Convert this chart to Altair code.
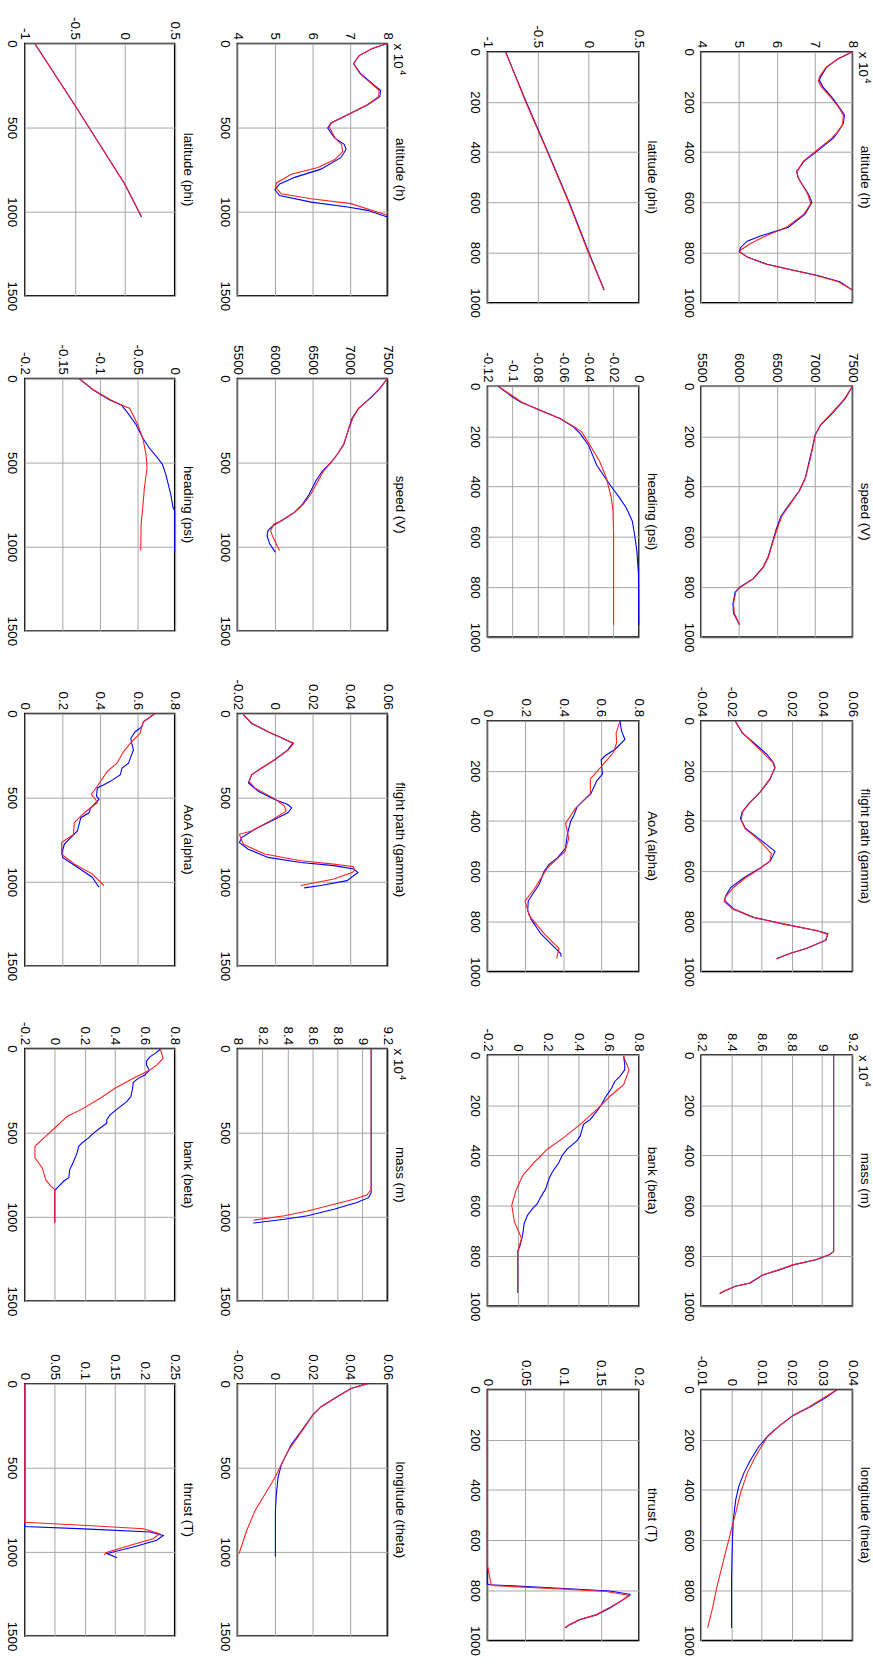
import altair as alt
import pandas as pd

# ---------------- data (time t, value v) ----------------
# Right half (t: 0..1000)
ALT_R_TB = [0, 30, 62, 100, 114, 140, 180, 220, 253, 285, 320, 345, 397, 437, 476, 500, 516, 568, 601, 647, 700, 735, 755, 780, 796, 818, 847, 871, 891, 917, 950]
ALT_R_VB = [8.0, 7.6, 7.32, 7.16, 7.13, 7.22, 7.45, 7.65, 7.79, 7.76, 7.62, 7.49, 7.06, 6.72, 6.53, 6.56, 6.62, 6.84, 6.93, 6.75, 6.30, 5.55, 5.22, 5.05, 5.01, 5.22, 5.75, 6.45, 7.06, 7.67, 8.0]
ALT_R_TR = [0, 30, 62, 100, 118, 140, 180, 220, 253, 290, 320, 345, 397, 437, 480, 500, 520, 568, 605, 647, 700, 740, 765, 790, 798, 820, 847, 871, 891, 917, 950]
ALT_R_VR = [8.0, 7.6, 7.3, 7.13, 7.1, 7.18, 7.42, 7.63, 7.76, 7.74, 7.6, 7.45, 7.02, 6.7, 6.53, 6.57, 6.64, 6.82, 6.9, 6.72, 6.25, 5.62, 5.3, 5.05, 5.02, 5.25, 5.72, 6.42, 7.02, 7.63, 8.0]

LAT_R_TB = [0, 200, 400, 600, 800, 950]
LAT_R_VB = [-0.82, -0.615, -0.40, -0.19, 0.005, 0.158]
LAT_R_TR = [0, 200, 400, 600, 800, 950]
LAT_R_VR = [-0.82, -0.62, -0.405, -0.195, 0.0, 0.155]

SPD_R_TB = [0, 50, 109, 155, 195, 247, 300, 366, 418, 471, 517, 570, 616, 682, 721, 767, 800, 820, 866, 905, 951]
SPD_R_VB = [7500, 7405, 7232, 7080, 7006, 6970, 6929, 6877, 6797, 6667, 6558, 6494, 6450, 6385, 6320, 6190, 6017, 5952, 5922, 5930, 6009]
SPD_R_TR = SPD_R_TB
SPD_R_VR = [7500, 7395, 7220, 7075, 7010, 6975, 6935, 6880, 6800, 6675, 6570, 6505, 6455, 6390, 6325, 6195, 6025, 5960, 5930, 5940, 6012]

HDG_R_TB = [0, 37, 63, 96, 129, 162, 188, 234, 313, 353, 392, 445, 484, 537, 589, 655, 747, 951]
HDG_R_VB = [-0.1114, -0.1017, -0.0938, -0.078, -0.0624, -0.0519, -0.0466, -0.040, -0.0335, -0.0283, -0.023, -0.0152, -0.010, -0.0052, -0.0034, -0.0016, -0.0003, 0.0]
HDG_R_TR = [0, 37, 63, 96, 129, 162, 182, 234, 300, 366, 445, 497, 589, 951]
HDG_R_VR = [-0.1114, -0.1005, -0.093, -0.0785, -0.0625, -0.051, -0.0453, -0.0388, -0.031, -0.0257, -0.0218, -0.0204, -0.020, -0.020]

FPA_R_TB = [3, 49, 88, 134, 167, 186, 232, 285, 331, 364, 390, 429, 469, 495, 521, 560, 587, 626, 665, 700, 717, 751, 784, 810, 836, 849, 875, 908, 928, 948]
FPA_R_VB = [-0.0172, -0.0128, -0.0052, 0.0035, 0.0078, 0.0089, 0.0057, -0.0009, -0.0085, -0.0128, -0.0139, -0.0107, -0.002, 0.0035, 0.0089, 0.0057, -0.0009, -0.0117, -0.0204, -0.0238, -0.0243, -0.0183, -0.0052, 0.0143, 0.0361, 0.0437, 0.0426, 0.0296, 0.0187, 0.010]
FPA_R_TR = [3, 49, 88, 134, 167, 190, 232, 285, 331, 364, 395, 429, 469, 500, 530, 560, 587, 626, 665, 700, 720, 751, 784, 810, 836, 852, 875, 908, 928, 950]
FPA_R_VR = [-0.0172, -0.0125, -0.006, 0.002, 0.0075, 0.0088, 0.0055, -0.001, -0.0083, -0.0125, -0.0136, -0.011, -0.003, 0.002, 0.0065, 0.0055, -0.0005, -0.0105, -0.0185, -0.0235, -0.0248, -0.019, -0.0055, 0.014, 0.036, 0.0438, 0.0422, 0.0292, 0.0185, 0.0098]

AOA_R_TB = [0, 42, 75, 114, 140, 156, 193, 213, 239, 272, 291, 318, 344, 377, 403, 455, 508, 547, 573, 600, 652, 692, 718, 757, 790, 849, 902, 928, 941]
AOA_R_VB = [0.70, 0.709, 0.727, 0.675, 0.622, 0.601, 0.605, 0.608, 0.579, 0.558, 0.547, 0.509, 0.474, 0.457, 0.439, 0.422, 0.413, 0.37, 0.326, 0.30, 0.274, 0.239, 0.216, 0.213, 0.23, 0.282, 0.352, 0.387, 0.39]
AOA_R_TR = [3, 49, 88, 127, 180, 232, 291, 350, 409, 469, 521, 587, 672, 718, 777, 849, 908, 948]
AOA_R_VR = [0.70, 0.68, 0.683, 0.666, 0.605, 0.544, 0.544, 0.465, 0.413, 0.43, 0.41, 0.317, 0.247, 0.199, 0.221, 0.30, 0.378, 0.366]

MAS_R_TB = [0, 783, 796, 816, 836, 855, 875, 908, 921, 941, 950]
MAS_R_VB = [9.076, 9.076, 9.048, 8.96, 8.809, 8.722, 8.613, 8.526, 8.428, 8.352, 8.326]
MAS_R_TR = MAS_R_TB
MAS_R_VR = [9.076, 9.076, 9.045, 8.955, 8.805, 8.718, 8.61, 8.52, 8.425, 8.35, 8.322]

BNK_R_TB = [4, 39, 59, 86, 105, 132, 171, 197, 224, 257, 276, 322, 342, 375, 401, 428, 467, 493, 533, 566, 592, 612, 638, 671, 717, 757, 783, 947]
BNK_R_VB = [0.70, 0.707, 0.707, 0.674, 0.641, 0.62, 0.576, 0.554, 0.522, 0.478, 0.435, 0.413, 0.391, 0.326, 0.293, 0.272, 0.228, 0.207, 0.185, 0.152, 0.13, 0.098, 0.065, 0.043, 0.033, 0.017, 0.0, 0.0]
BNK_R_TR = [4, 59, 118, 164, 217, 276, 329, 375, 428, 480, 539, 599, 664, 730, 783, 947]
BNK_R_VR = [0.70, 0.735, 0.70, 0.609, 0.522, 0.413, 0.304, 0.196, 0.109, 0.033, -0.011, -0.039, -0.022, 0.026, 0.0, 0.0]

LON_R_TB = [0, 30, 70, 102, 142, 181, 227, 280, 332, 385, 438, 516, 595, 753, 950]
LON_R_VB = [0.035, 0.0315, 0.026, 0.0206, 0.0162, 0.0124, 0.0091, 0.0064, 0.0042, 0.0025, 0.0015, 0.0007, 0.0004, 0.0001, 0.0001]
LON_R_TR = [0, 30, 70, 102, 142, 188, 267, 332, 411, 490, 569, 674, 779, 871, 950]
LON_R_VR = [0.035, 0.031, 0.0255, 0.0204, 0.0162, 0.0119, 0.008, 0.0053, 0.0031, 0.0015, -0.0002, -0.0024, -0.0046, -0.0062, -0.0078]

THR_R_TB = [0, 775, 778, 790, 803, 816, 838, 871, 898, 917, 937, 950]
THR_R_VB = [0.0, 0.0, 0.004, 0.083, 0.162, 0.188, 0.179, 0.162, 0.144, 0.122, 0.109, 0.103]
THR_R_TR = [0, 700, 777, 782, 796, 805, 821, 840, 871, 898, 917, 937, 950]
THR_R_VR = [0.0, 0.0, 0.005, 0.01, 0.105, 0.157, 0.188, 0.178, 0.16, 0.143, 0.121, 0.108, 0.102]

# Left half (t: 0..1500)
ALT_L_TB = [0, 30, 72, 121, 180, 248, 278, 317, 366, 424, 473, 503, 561, 600, 630, 679, 747, 796, 835, 870, 904, 943, 972, 992, 1031]
ALT_L_VB = [8.0, 7.6, 7.25, 7.10, 7.29, 7.65, 7.82, 7.8, 7.47, 6.94, 6.5, 6.41, 6.59, 6.85, 6.9, 6.76, 6.23, 5.53, 5.13, 5.0, 5.13, 5.97, 6.94, 7.47, 8.0]
ALT_L_TR = [0, 30, 72, 121, 180, 248, 278, 317, 366, 424, 470, 495, 561, 600, 643, 690, 737, 777, 829, 855, 894, 923, 952, 1021]
ALT_L_VR = [8.0, 7.6, 7.25, 7.1, 7.27, 7.62, 7.78, 7.77, 7.45, 6.95, 6.52, 6.45, 6.6, 6.78, 6.81, 6.6, 6.15, 5.44, 5.04, 5.02, 5.17, 5.97, 7.03, 8.0]

LAT_L_TB = [0, 366, 835, 1031]
LAT_L_VB = [-0.9, -0.5, 0.0, 0.168]
LAT_L_TR = [0, 366, 835, 1025]
LAT_L_VR = [-0.9, -0.5, 0.0, 0.165]

SPD_L_TB = [0, 59, 118, 177, 236, 295, 393, 452, 501, 550, 609, 688, 747, 796, 845, 875, 904, 934, 983, 1032]
SPD_L_VB = [7500, 7403, 7271, 7117, 7030, 6986, 6920, 6832, 6744, 6634, 6546, 6458, 6370, 6260, 6085, 5975, 5909, 5896, 5931, 6005]
SPD_L_TR = [0, 59, 118, 177, 236, 295, 393, 452, 501, 550, 609, 688, 747, 796, 845, 865, 904, 944, 1022]
SPD_L_VR = [7500, 7400, 7265, 7120, 7040, 6990, 6915, 6830, 6745, 6650, 6575, 6480, 6380, 6265, 6090, 5990, 5944, 5975, 6063]

HDG_L_TB = [0, 69, 128, 157, 206, 275, 354, 413, 472, 511, 570, 609, 688, 767, 786, 1032]
HDG_L_VB = [-0.1275, -0.1086, -0.0866, -0.0712, -0.0624, -0.0514, -0.0426, -0.0338, -0.0229, -0.0163, -0.0119, -0.0097, -0.0053, -0.0022, 0.0, 0.0]
HDG_L_TR = [0, 69, 128, 157, 177, 275, 354, 452, 531, 649, 767, 865, 1022]
HDG_L_VR = [-0.1275, -0.108, -0.085, -0.0712, -0.0602, -0.0492, -0.0426, -0.0382, -0.0369, -0.0404, -0.0426, -0.0448, -0.0453]

FPA_L_TB = [6, 59, 108, 147, 177, 216, 275, 324, 364, 413, 462, 511, 541, 560, 590, 639, 688, 737, 767, 806, 855, 885, 904, 924, 944, 993, 1022, 1036]
FPA_L_VB = [-0.0168, -0.0124, -0.0037, 0.0042, 0.0095, 0.0069, -0.0001, -0.0071, -0.0124, -0.0141, -0.0088, -0.0001, 0.0069, 0.009, 0.0069, -0.0019, -0.0107, -0.0177, -0.0189, -0.0142, -0.0036, 0.0139, 0.0315, 0.042, 0.0443, 0.0385, 0.0245, 0.0157]
FPA_L_TR = [6, 59, 108, 153, 177, 216, 275, 324, 364, 403, 442, 507, 550, 580, 635, 698, 718, 777, 835, 875, 895, 910, 930, 944, 983, 1022]
FPA_L_VR = [-0.0168, -0.0122, -0.0035, 0.0051, 0.0101, 0.0072, 0.0, -0.007, -0.0124, -0.0138, -0.0107, 0.0, 0.0051, 0.006, -0.002, -0.0124, -0.0189, -0.0168, -0.0054, 0.0139, 0.0315, 0.042, 0.0425, 0.0415, 0.0315, 0.0139]

AOA_L_TB = [0, 49, 79, 108, 147, 177, 216, 265, 295, 324, 364, 403, 423, 442, 491, 511, 531, 560, 590, 619, 659, 698, 747, 777, 826, 855, 914, 973, 1003, 1032]
AOA_L_VB = [0.695, 0.633, 0.624, 0.589, 0.566, 0.571, 0.58, 0.563, 0.554, 0.519, 0.51, 0.457, 0.422, 0.387, 0.383, 0.396, 0.378, 0.352, 0.343, 0.299, 0.29, 0.281, 0.237, 0.211, 0.199, 0.202, 0.281, 0.36, 0.378, 0.396]
AOA_L_TR = [0, 49, 79, 118, 167, 226, 295, 344, 432, 481, 511, 531, 560, 600, 649, 718, 767, 836, 894, 953, 1022]
AOA_L_VR = [0.695, 0.633, 0.624, 0.615, 0.571, 0.527, 0.492, 0.44, 0.387, 0.355, 0.378, 0.387, 0.352, 0.308, 0.264, 0.26, 0.197, 0.197, 0.264, 0.36, 0.422]

MAS_L_TB = [0, 856, 886, 915, 955, 994, 1014, 1037]
MAS_L_VB = [9.071, 9.071, 9.05, 8.957, 8.773, 8.562, 8.377, 8.127]
MAS_L_TR = [0, 837, 870, 896, 925, 965, 994, 1020]
MAS_L_VR = [9.071, 9.071, 9.036, 8.931, 8.773, 8.562, 8.377, 8.127]

BNK_L_TB = [4, 30, 49, 75, 98, 128, 157, 177, 201, 236, 285, 315, 354, 394, 423, 443, 472, 502, 531, 561, 581, 620, 679, 719, 768, 787, 817, 842, 1033]
BNK_L_VB = [0.705, 0.668, 0.634, 0.612, 0.612, 0.63, 0.601, 0.557, 0.524, 0.519, 0.508, 0.48, 0.424, 0.369, 0.347, 0.347, 0.303, 0.259, 0.226, 0.182, 0.16, 0.149, 0.122, 0.1, 0.094, 0.061, 0.028, 0.0, 0.0]
BNK_L_TR = [4, 59, 98, 128, 157, 177, 236, 295, 354, 404, 443, 472, 531, 581, 650, 709, 778, 817, 837, 1033]
BNK_L_VR = [0.705, 0.723, 0.679, 0.634, 0.568, 0.524, 0.402, 0.303, 0.193, 0.083, 0.034, 0.0, -0.072, -0.132, -0.132, -0.083, -0.061, -0.027, 0.0, 0.0]

LON_L_TB = [0, 29, 88, 137, 186, 284, 363, 422, 480, 559, 657, 755, 1029]
LON_L_VB = [0.0494, 0.0406, 0.0317, 0.0247, 0.0203, 0.014, 0.0087, 0.0061, 0.0035, 0.0017, 0.0008, 0.0003, 0.0003]
LON_L_TR = [0, 29, 88, 137, 186, 275, 343, 402, 480, 559, 657, 755, 873, 1010]
LON_L_VR = [0.0494, 0.0406, 0.0317, 0.0247, 0.0203, 0.0149, 0.0106, 0.007, 0.0035, 0.0, -0.0053, -0.0106, -0.015, -0.0191]

THR_L_TB = [0, 849, 863, 882, 902, 931, 971, 1010, 1035]
THR_L_VB = [0.0, 0.0, 0.099, 0.209, 0.231, 0.22, 0.181, 0.137, 0.154]
THR_L_TR = [0, 824, 843, 863, 892, 922, 961, 1005, 1020]
THR_L_VR = [0.0, 0.0, 0.104, 0.198, 0.225, 0.214, 0.176, 0.135, 0.133]

# tick values
T_R = [0, 200, 400, 600, 800, 1000]
T_L = [0, 500, 1000, 1500]

FONT = "Liberation Sans"
FS = 13.5
LABEL_EXPR = "'' + datum.value"
LEFT_EXT = 22      # reserved room for the (rotated) time labels
TOP_EXT1 = 29      # reserved room above the first row


def panel(title, tb, vb, tr, vr, dom, vticks, tmax, tticks, w, h, top_ext, exp=False):
    xenc = alt.X("v:Q", title=None,
                 scale=alt.Scale(domain=dom, nice=False, zero=False),
                 axis=alt.Axis(orient="top", values=vticks, labelAngle=90,
                               labelAlign="right", labelBaseline="middle",
                               labelPadding=4, labelExpr=LABEL_EXPR, grid=True,
                               minExtent=top_ext))
    yenc = alt.Y("t:Q", title=None,
                 scale=alt.Scale(domain=[0, tmax], reverse=True, nice=False, zero=False),
                 axis=alt.Axis(orient="left", values=tticks, labelAngle=90,
                               labelAlign="center", labelBaseline="top",
                               labelPadding=6, labelExpr=LABEL_EXPR, grid=True,
                               minExtent=LEFT_EXT))
    blue = alt.Chart(pd.DataFrame({"t": tb, "v": vb})).mark_line(
        color="#0000ff", strokeWidth=1.1).encode(x=xenc, y=yenc, order="t:Q")
    red = alt.Chart(pd.DataFrame({"t": tr, "v": vr})).mark_line(
        color="#ff2020", strokeWidth=1.1).encode(x=xenc, y=yenc, order="t:Q")
    ttl = alt.Chart(pd.DataFrame({"txt": [title]})).mark_text(
        angle=90, align="center", baseline="bottom", font=FONT, fontSize=FS,
        color="black").encode(text="txt:N", x=alt.value(w + 6), y=alt.value(h / 2))
    layers = [blue, red, ttl]
    if exp:
        base = alt.Chart(pd.DataFrame({"a": ["x 10"], "b": ["4"]}))
        layers.append(base.mark_text(angle=90, align="left", baseline="bottom",
                                     font=FONT, fontSize=FS, color="black")
                      .encode(text="a:N", x=alt.value(w + 4), y=alt.value(0)))
        layers.append(base.mark_text(angle=90, align="left", baseline="bottom",
                                     font=FONT, fontSize=9, color="black")
                      .encode(text="b:N", x=alt.value(w + 10.5), y=alt.value(27)))
    return alt.layer(*layers).properties(width=w, height=h)


def spacer(w, h):
    return alt.Chart(pd.DataFrame({"a": [0]})).mark_point(opacity=0, size=1).encode(
        x=alt.value(1), y=alt.value(0.5)).properties(
        width=w, height=h, view=alt.ViewBackground(stroke="transparent"))


WR, HR = 153, 253.5
WL, HL = 151.5, 255

colA = alt.vconcat(
    panel("altitude (h)", ALT_R_TB, ALT_R_VB, ALT_R_TR, ALT_R_VR, [4, 8], [4, 5, 6, 7, 8], 1000, T_R, WR, HR, 0, exp=True),
    panel("speed (V)", SPD_R_TB, SPD_R_VB, SPD_R_TR, SPD_R_VR, [5500, 7500], [5500, 6000, 6500, 7000, 7500], 1000, T_R, WR, HR, 0),
    panel("flight path (gamma)", FPA_R_TB, FPA_R_VB, FPA_R_TR, FPA_R_VR, [-0.04, 0.06], [-0.04, -0.02, 0, 0.02, 0.04, 0.06], 1000, T_R, WR, HR, 0),
    panel("mass (m)", MAS_R_TB, MAS_R_VB, MAS_R_TR, MAS_R_VR, [8.2, 9.2], [8.2, 8.4, 8.6, 8.8, 9, 9.2], 1000, T_R, WR, HR, 0, exp=True),
    panel("longitude (theta)", LON_R_TB, LON_R_VB, LON_R_TR, LON_R_VR, [-0.01, 0.04], [-0.01, 0, 0.01, 0.02, 0.03, 0.04], 1000, T_R, WR, HR, 0),
    spacing=83.9, bounds="flush")

colB = alt.vconcat(
    panel("latitude (phi)", LAT_R_TB, LAT_R_VB, LAT_R_TR, LAT_R_VR, [-1, 0.5], [-1, -0.5, 0, 0.5], 1000, T_R, WR, HR, 0),
    panel("heading (psi)", HDG_R_TB, HDG_R_VB, HDG_R_TR, HDG_R_VR, [-0.12, 0], [-0.12, -0.1, -0.08, -0.06, -0.04, -0.02, 0], 1000, T_R, WR, HR, 0),
    panel("AoA (alpha)", AOA_R_TB, AOA_R_VB, AOA_R_TR, AOA_R_VR, [0, 0.8], [0, 0.2, 0.4, 0.6, 0.8], 1000, T_R, WR, HR, 0),
    panel("bank (beta)", BNK_R_TB, BNK_R_VB, BNK_R_TR, BNK_R_VR, [-0.2, 0.8], [-0.2, 0, 0.2, 0.4, 0.6, 0.8], 1000, T_R, WR, HR, 0),
    panel("thrust (T)", THR_R_TB, THR_R_VB, THR_R_TR, THR_R_VR, [0, 0.2], [0, 0.05, 0.1, 0.15, 0.2], 1000, T_R, WR, HR, 0),
    spacing=83.9, bounds="flush")

colC = alt.vconcat(
    panel("altitude (h)", ALT_L_TB, ALT_L_VB, ALT_L_TR, ALT_L_VR, [4, 8], [4, 5, 6, 7, 8], 1500, T_L, WL, HL, TOP_EXT1, exp=True),
    panel("speed (V)", SPD_L_TB, SPD_L_VB, SPD_L_TR, SPD_L_VR, [5500, 7500], [5500, 6000, 6500, 7000, 7500], 1500, T_L, WL, HL, 0),
    panel("flight path (gamma)", FPA_L_TB, FPA_L_VB, FPA_L_TR, FPA_L_VR, [-0.02, 0.06], [-0.02, 0, 0.02, 0.04, 0.06], 1500, T_L, WL, HL, 0),
    panel("mass (m)", MAS_L_TB, MAS_L_VB, MAS_L_TR, MAS_L_VR, [8, 9.2], [8, 8.2, 8.4, 8.6, 8.8, 9, 9.2], 1500, T_L, WL, HL, 0, exp=True),
    panel("longitude (theta)", LON_L_TB, LON_L_VB, LON_L_TR, LON_L_VR, [-0.02, 0.06], [-0.02, 0, 0.02, 0.04, 0.06], 1500, T_L, WL, HL, 0),
    spacing=83.5, bounds="flush")

colD = alt.vconcat(
    panel("latitude (phi)", LAT_L_TB, LAT_L_VB, LAT_L_TR, LAT_L_VR, [-1, 0.5], [-1, -0.5, 0, 0.5], 1500, T_L, WL, HL, TOP_EXT1),
    panel("heading (psi)", HDG_L_TB, HDG_L_VB, HDG_L_TR, HDG_L_VR, [-0.2, 0], [-0.2, -0.15, -0.1, -0.05, 0], 1500, T_L, WL, HL, 0),
    panel("AoA (alpha)", AOA_L_TB, AOA_L_VB, AOA_L_TR, AOA_L_VR, [0, 0.8], [0, 0.2, 0.4, 0.6, 0.8], 1500, T_L, WL, HL, 0),
    panel("bank (beta)", BNK_L_TB, BNK_L_VB, BNK_L_TR, BNK_L_VR, [-0.2, 0.8], [-0.2, 0, 0.2, 0.4, 0.6, 0.8], 1500, T_L, WL, HL, 0),
    panel("thrust (T)", THR_L_TB, THR_L_VB, THR_L_TR, THR_L_VR, [0, 0.25], [0, 0.05, 0.1, 0.15, 0.2, 0.25], 1500, T_L, WL, HL, 0),
    spacing=83.5, bounds="flush")

# the right-hand pair of columns sits 8.4 px lower than the left-hand pair
colB2 = alt.vconcat(spacer(10, 1), colB, spacing=7.4, bounds="flush")
colA2 = alt.vconcat(spacer(10, 1), colA, spacing=7.4, bounds="flush")

chart = alt.hconcat(colD, colC, spacer(17.2, 1), colB2, colA2, spacing=18.8).properties(
    padding={"left": 2, "top": 5.3, "right": 0, "bottom": 0},
    background="white",
).configure_view(
    stroke="black", strokeWidth=1.5
).configure_axis(
    labelFont=FONT, labelFontSize=FS, labelColor="black",
    gridColor="#a6a6a6", gridWidth=1, gridOpacity=1,
    ticks=False, domain=False, labelFlush=False, labelOverlap=False
)

chart.save("out.html", embed_options={"renderer": "svg", "actions": False})
